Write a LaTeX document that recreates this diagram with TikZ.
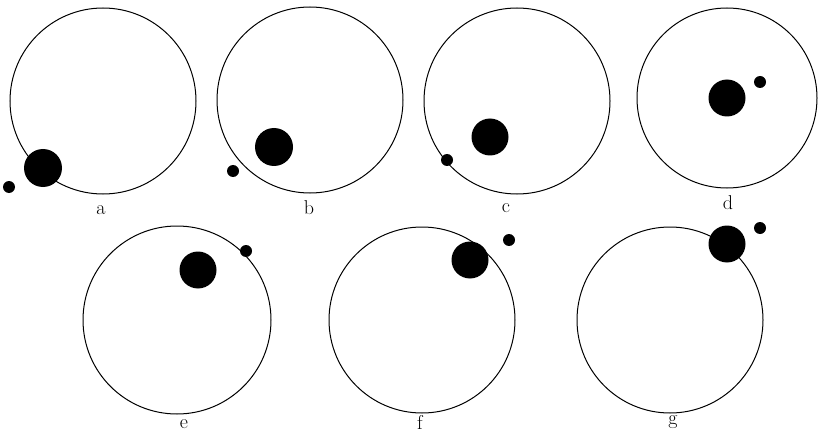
\documentclass[tikz,border=0pt]{standalone}
\begin{document}
\begin{tikzpicture}[x=1pt,y=-1pt,
  orbit/.style={draw=black,line width=1pt},
  big/.style={fill=black},
  lbl/.style={font=\fontsize{20}{20}\selectfont,inner sep=0pt}]
\useasboundingbox (0,0) rectangle (830,441);
% a
\draw[orbit] (103,101) circle (93);
\fill[big] (43,168) circle (19); \fill (9,187) circle (6);
\node[lbl] (la) at (101,210) {a};
% b
\draw[orbit] (310,100) circle (93);
\fill[big] (274,147) circle (19); \fill (233,171) circle (6);
\node[lbl] (lb) at (309,208) {b};
% c
\draw[orbit] (517,101) circle (93);
\fill[big] (490,137) circle (18.5); \fill (447,160) circle (6);
\node[lbl] (lc) at (506,208) {c};
% d
\draw[orbit] (727,98) circle (90);
\fill[big] (727,98) circle (18.5); \fill (760,82) circle (6);
\node[lbl] (ld) at (728,203) {d};
% e
\draw[orbit] (177,320) circle (94);
\fill[big] (198,270) circle (18.5); \fill (246,251) circle (6);
\node[lbl] (le) at (184,424) {e};
% f
\draw[orbit] (422,320) circle (93);
\fill[big] (470,260) circle (18.5); \fill (509,240) circle (6);
\node[lbl] (lf) at (420,422) {f};
% g
\draw[orbit] (670,320) circle (93);
\fill[big] (727,244) circle (18.5); \fill (760,228) circle (6);
\node[lbl] (lg) at (673,422) {g};
\end{tikzpicture}
\end{document}
